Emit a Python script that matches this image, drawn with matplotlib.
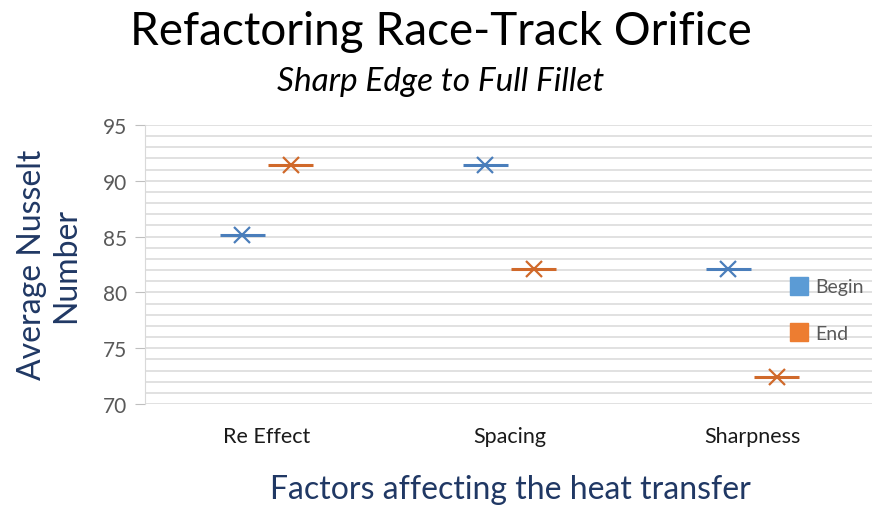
import matplotlib
matplotlib.use("Agg")
import matplotlib.pyplot as plt
import numpy as np
from matplotlib.lines import Line2D

categories = ["Re Effect", "Spacing", "Sharpness"]
series_names = ["Begin", "End"]
begin_values = [85.1, 91.4, 82.1]
end_values = [91.4, 82.1, 72.4]
y_ticks = [70, 75, 80, 85, 90, 95]

FONT = "Lato"
plt.rcParams["font.family"] = [FONT, "DejaVu Sans"]

W, H = 872, 510
fig = plt.figure(figsize=(W / 100, H / 100), dpi=100)
left, right, top, bottom = 145, 874, 126, 405
ax = fig.add_axes([left / W, 1 - bottom / H, (right - left) / W, (bottom - top) / H])

line_colors = ["#4A7EBB", "#D0692A"]
legend_colors = ["#5B9BD5", "#ED7D31"]
offset = 0.1
half = 0.093
x = np.arange(len(categories))
for i, (vals, col) in enumerate(zip([begin_values, end_values], line_colors)):
    xs = x + (i - 0.5) * 2 * offset
    ax.hlines(vals, xs - half, xs + half, colors=col, linewidth=2.2, zorder=3)
    ax.plot(xs, vals, linestyle="none", marker="x", markersize=11, markeredgewidth=1.6,
            color=col, zorder=4)

ax.set_xlim(-0.5, len(categories) - 0.5)
ax.set_ylim(70, 95)
ax.set_yticks(y_ticks)
ax.set_yticks(np.arange(70, 96, 1), minor=True)
ax.grid(True, which="both", axis="y", color="#D9D9D9", linewidth=1.1)
ax.set_axisbelow(True)
ax.set_xticks(x)
ax.set_xticklabels(categories, fontsize=15.5, color="#1a1a1a")
ax.tick_params(axis="x", length=0, pad=16)
ax.tick_params(axis="y", which="major", length=7, color="#BFBFBF", labelcolor="#595959",
               labelsize=15, pad=6)
ax.tick_params(axis="y", which="minor", length=0)
for s in ["top", "right", "bottom"]:
    ax.spines[s].set_visible(False)
ax.spines["left"].set_color("#D9D9D9")

fig.text(441 / W, 1 - 32 / H, "Refactoring Race-Track Orifice", ha="center", va="center",
         fontsize=33, color="#000000")
fig.text(441 / W, 1 - 82 / H, "Sharp Edge to Full Fillet", ha="center", va="center",
         fontsize=24, style="italic", color="#000000")
fig.text(510 / W, 1 - 490 / H, "Factors affecting the heat transfer", ha="center", va="center",
         fontsize=23, color="#203864")
fig.text(49 / W, 1 - 265 / H, "Average Nusselt\nNumber", ha="center", va="center",
         rotation=90, fontsize=23, color="#203864", linespacing=1.15)

handles = [Line2D([], [], linestyle="none", marker="s", markersize=13,
                  markerfacecolor=c, markeredgecolor=c) for c in legend_colors]
fig.legend(handles, series_names, loc="center left", bbox_to_anchor=(772 / W, 1 - 311 / H),
           frameon=False, fontsize=14, labelcolor="#595959", handletextpad=0.3,
           labelspacing=1.5, handlelength=1.0)

fig.savefig("out.png", dpi=100)
